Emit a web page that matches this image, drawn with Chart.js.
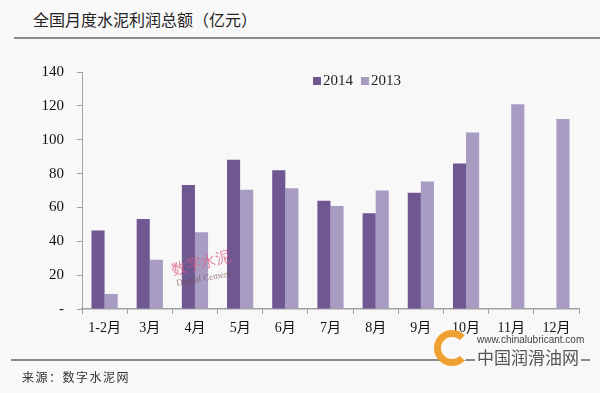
<!DOCTYPE html>
<html lang="zh">
<head>
<meta charset="UTF-8">
<title>全国月度水泥利润总额</title>
<script src="https://cdn.jsdelivr.net/npm/chart.js"></script>
<style>
    html, body {
        margin: 0;
        padding: 0;
        background: #f8f8f8;
    }
    .page {
        position: relative;
        width: 600px;
        height: 393px;
        overflow: hidden;
    }
    .title {
        position: absolute;
        left: 33px;
        top: 7px;
        font-family: "Noto Sans CJK SC", sans-serif;
        font-size: 16px;
        color: #222;
        white-space: nowrap;
    }
    .rule {
        position: absolute;
        height: 2px;
        background: #8a8a8a;
    }
    .source {
        position: absolute;
        left: 22px;
        top: 368px;
        font-family: "Noto Sans CJK SC", sans-serif;
        font-size: 12px;
        letter-spacing: 1.5px;
        color: #333;
    }
    #legend {
        position: absolute;
        left: 313px;
        top: 72px;
        font-family: "Liberation Serif", serif;
        font-size: 15px;
        color: #222;
        display: flex;
    }
    #legend span.item {
        display: flex;
        align-items: center;
        margin-right: 8px;
    }
    #legend span.box {
        width: 8px;
        height: 8px;
        margin-right: 2px;
    }
    .wm {
        position: absolute;
        white-space: nowrap;
        line-height: 1;
    }
    canvas {
        position: absolute;
        left: 0;
        top: 0;
    }
</style>
</head>
<body>
<div class="page">
    <div class="title">全国月度水泥利润总额（亿元）</div>
    <div class="rule" style="left:14px; right:0; top:37px;"></div>
    <canvas id="grafUtilidad" width="600" height="393"></canvas>
    <div id="legend"></div>
    <div class="rule" style="left:11px; right:10px; top:359px;"></div>
    <div class="source">来源：数字水泥网</div>
    <div class="wm" style="left:171px; top:256px; font-family:'Liberation Serif',serif; font-size:15px; color:rgba(220,90,130,0.75); transform:rotate(-14deg);">数字水泥</div>
    <div class="wm" style="left:176px; top:274px; font-family:'Liberation Serif',serif; font-size:9px; color:rgba(120,80,90,0.7); transform:rotate(-10deg);">Digital Cement</div>
    <div class="wm" style="left:475px; top:348px; font-family:'Noto Sans CJK SC',sans-serif; font-size:17px; color:#555; background:#f8f8f8; padding:0 2px;">中国润滑油网</div>
    <div class="wm" style="left:477px; top:335px; font-family:'Liberation Sans',sans-serif; font-size:10px; color:#444;">www.chinalubricant.com</div>
    <div class="wm" style="left:434px; top:330px; width:22px; height:22px; border-radius:50%; border:7px solid #f0a030; border-right-color:transparent; background:#f8f8f8;"></div>
</div>

<script>
    const meses = ['1-2月', '3月', '4月', '5月', '6月', '7月', '8月', '9月', '10月', '11月', '12月'];
    const valores2014 = [46.3, 53.2, 73.3, 88.1, 82, 64, 56.6, 68.6, 85.9, null, null];
    const valores2013 = [8.9, 29.1, 45.4, 70.5, 71.4, 60.9, 70, 75.3, 104.3, 121, 112.2];
    const ticksY = [0, 20, 40, 60, 80, 100, 120, 140];

    const colorEje = '#a0a0a0';
    const fuenteSerif = '"Liberation Serif", "Noto Sans CJK SC", serif';

    const grafico = new Chart(grafUtilidad, {
        type: 'bar',
        data: {
            labels: meses,
            datasets: [{
                label: '2014',
                data: valores2014,
                backgroundColor: '#6f5792',
                barPercentage: 1,
                categoryPercentage: 0.58
            }, {
                label: '2013',
                data: valores2013,
                backgroundColor: '#a89cc2',
                barPercentage: 1,
                categoryPercentage: 0.58
            }]
        },
        options: {
            responsive: false,
            animation: false,
            layout: { padding: { top: 72, right: 21, left: 0, bottom: 0 } },
            plugins: {
                legend: { display: false },
                tooltip: { enabled: false }
            },
            scales: {
                x: {
                    offset: true,
                    grid: {
                        offset: true,
                        drawOnChartArea: false,
                        tickLength: 5,
                        color: colorEje
                    },
                    border: { color: colorEje, width: 1.5 },
                    ticks: {
                        padding: 6,
                        color: '#111',
                        font: { family: fuenteSerif, size: 14 },
                        maxRotation: 0,
                        autoSkip: false
                    },
                    afterFit: s => { s.height = 84; }
                },
                y: {
                    min: 0,
                    max: 140,
                    afterBuildTicks: s => { s.ticks = ticksY.map(v => ({ value: v })); },
                    grid: {
                        drawOnChartArea: false,
                        tickLength: 5,
                        color: colorEje
                    },
                    border: { color: colorEje, width: 1 },
                    ticks: {
                        padding: 13,
                        color: '#111',
                        font: { family: fuenteSerif, size: 15 },
                        callback: v => v === 0 ? '-' : v
                    },
                    afterFit: s => { s.width = 82; }
                }
            }
        }
    });

    // leyenda
    const leyenda = document.getElementById('legend');
    grafico.data.datasets.forEach(ds => {
        const item = document.createElement('span');
        item.className = 'item';
        item.innerHTML = '<span class="box" style="background:' + ds.backgroundColor + '"></span>' + ds.label;
        leyenda.appendChild(item);
    });
</script>
</body>
</html>
